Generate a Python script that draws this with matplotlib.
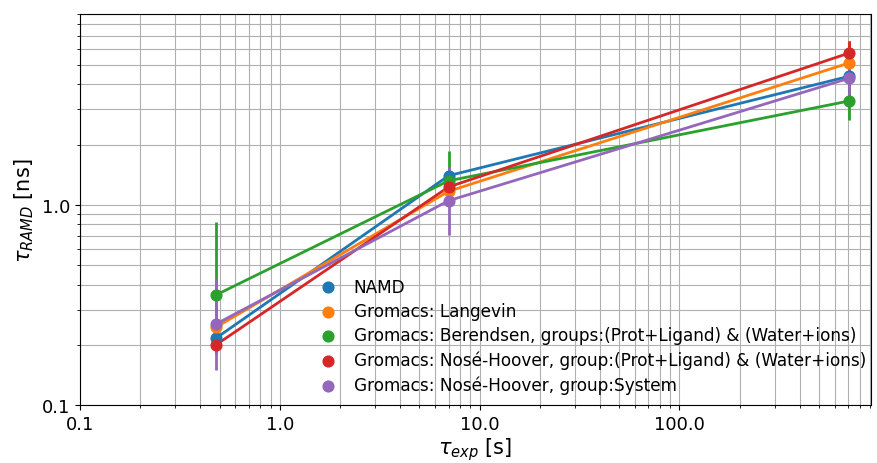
import numpy as np
import matplotlib
matplotlib.use('Agg')
import matplotlib.pyplot as plt
from matplotlib.ticker import FuncFormatter, NullFormatter

# experimental residence times [s]
tau_exp = [0.48, 7.0, 710.0]

labels = ['NAMD',
          'Gromacs: Langevin',
          'Gromacs: Berendsen, groups:(Prot+Ligand) & (Water+ions)',
          'Gromacs: Nosé-Hoover, group:(Prot+Ligand) & (Water+ions)',
          'Gromacs: Nosé-Hoover, group:System']

# RAMD residence times [ns] and their lower / upper bounds
namd = [0.216, 1.40, 4.40]
namd_lo = [0.20, 1.25, 3.9]
namd_hi = [0.23, 1.55, 6.6]

langevin = [0.245, 1.17, 5.13]
langevin_lo = [0.22, 1.05, 4.6]
langevin_hi = [0.27, 1.30, 6.6]

berendsen = [0.355, 1.32, 3.31]
berendsen_lo = [0.22, 1.00, 2.66]
berendsen_hi = [0.82, 1.86, 3.9]

nose_pl = [0.20, 1.23, 5.75]
nose_pl_lo = [0.18, 1.10, 5.2]
nose_pl_hi = [0.22, 1.40, 6.6]

nose_sys = [0.254, 1.05, 4.30]
nose_sys_lo = [0.15, 0.71, 3.3]
nose_sys_hi = [0.427, 1.55, 5.3]

series = [(namd, namd_lo, namd_hi),
          (langevin, langevin_lo, langevin_hi),
          (berendsen, berendsen_lo, berendsen_hi),
          (nose_pl, nose_pl_lo, nose_pl_hi),
          (nose_sys, nose_sys_lo, nose_sys_hi)]

colors = ['tab:blue', 'tab:orange', 'tab:green', 'tab:red', 'tab:purple']

fig = plt.figure(figsize=(8.77, 4.64), dpi=100)
ax = fig.add_axes([80/877, 1-406/464, 791/877, 391/464])

for (vals, lo, hi), lab, c in zip(series, labels, colors):
    vals = np.array(vals)
    yerr = [vals - np.array(lo), np.array(hi) - vals]
    ax.errorbar(tau_exp, vals, yerr=yerr, color=c, lw=2, elinewidth=2, capsize=0)
    ax.scatter(tau_exp, vals, color=c, s=60, zorder=3, label=lab)

ax.set_xscale('log')
ax.set_yscale('log')
ax.set_xlim(0.1, 910)
ax.set_ylim(0.1, 9.0)

fmt = FuncFormatter(lambda v, p: '%.1f' % v)
ax.xaxis.set_major_formatter(fmt)
ax.yaxis.set_major_formatter(fmt)
ax.xaxis.set_minor_formatter(NullFormatter())
ax.yaxis.set_minor_formatter(NullFormatter())
ax.tick_params(labelsize=13)

ax.grid(True, which='both', color='#b0b0b0', lw=0.8)
ax.set_axisbelow(True)

ax.set_xlabel(r'$\tau_{exp}$ [s]', fontsize=15, labelpad=2)
ax.set_ylabel(r'$\tau_{RAMD}$ [ns]', fontsize=15, labelpad=4)

ax.legend(loc='lower left', bbox_to_anchor=((304-80)/791, 4/391), borderaxespad=0,
          frameon=False, fontsize=12.15, scatterpoints=1, handletextpad=0.55,
          labelspacing=0.38)

plt.savefig('out.png', dpi=100)
